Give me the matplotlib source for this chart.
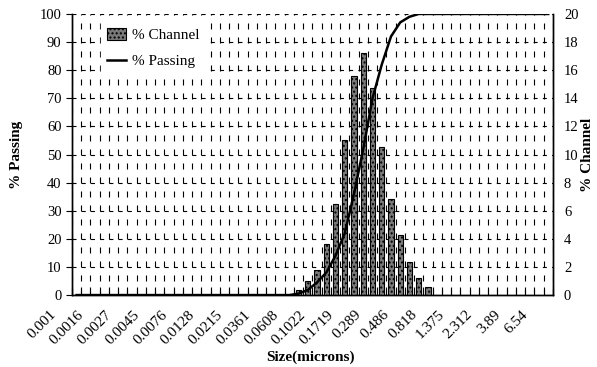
import numpy as np
import matplotlib
matplotlib.use("Agg")
import matplotlib.pyplot as plt
import matplotlib.transforms as mtransforms

plt.rcParams['font.family'] = ['Liberation Serif', 'DejaVu Serif']

# size tick labels (one every 3 channels)
size_labels = ['0.001', '0.0016', '0.0027', '0.0045', '0.0076', '0.0128',
               '0.0215', '0.0361', '0.0608', '0.1022', '0.1719', '0.289',
               '0.486', '0.818', '1.375', '2.312', '3.89', '6.54']

# % in each channel (52 channels)
channel_pct = [0] * 24 + [0.35, 1.0, 1.8, 3.6, 6.5, 11.0, 15.6, 17.2,
                          14.7, 10.5, 6.8, 4.3, 2.35, 1.2, 0.57] + [0] * 13

# cumulative % passing
passing_pct = [0] * 24 + [0.5, 1.8, 4.5, 8, 14, 22, 36, 52,
                          70, 82, 92, 97, 99, 100] + [100] * 14

x = np.arange(len(channel_pct))

fig = plt.figure(figsize=(5.97, 3.67), dpi=100)
ax = fig.add_axes([0.1206, 0.196, 0.8054, 0.766])
ax2 = ax.twinx()

# left axis: % Passing
ax.set_xlim(-0.5, len(x) - 0.5)
ax.set_ylim(0, 100)
ax.set_yticks(np.arange(0, 101, 10))

# dashed grid
for b in np.arange(-0.5, len(x), 1):
    ax.axvline(b, color='black', lw=0.8, ls=(0, (5.4, 7.2)), zorder=0)
for yv in np.arange(10, 101, 10):
    ax.axhline(yv, color='black', lw=0.8, ls=(0, (3.6, 4.7)), zorder=0)

# size labels, shifted left like the original
ax.set_xticks([])
ax.set_xticks(np.arange(-0.5, len(x), 1), minor=True)
trans = mtransforms.blended_transform_factory(ax.transData, ax.transAxes)
shift = mtransforms.ScaledTranslation(-0.27, -0.13, fig.dpi_scale_trans)
for xi, lab in zip(x[::3], size_labels):
    ax.text(xi, 0, lab, transform=trans + shift, rotation=45, ha='right',
            va='top', rotation_mode='anchor', fontsize=11, clip_on=False)

ax.tick_params(axis='x', which='minor', direction='in', length=6, width=0.8)
ax.tick_params(axis='y', labelsize=10.5, length=4, width=0.8)
fig.text(0.52, 1 - 357 / 367, 'Size(microns)', fontsize=11, fontweight='bold',
         ha='center', va='center')
ax.set_ylabel('% Passing', fontsize=11, fontweight='bold', labelpad=12)

# right axis: % Channel
ax2.set_ylim(0, 20)
ax2.set_yticks(np.arange(0, 21, 2))
ax2.tick_params(axis='y', labelsize=10.5, length=0, pad=8)
ax2.set_ylabel('% Channel', fontsize=11, fontweight='bold', labelpad=2)

bars = ax2.bar(x, channel_pct, width=0.55, color='#7a7a7a', edgecolor='black',
               hatch='....', lw=0.8, zorder=2)
line, = ax2.plot(x, np.array(passing_pct) / 5, color='black', lw=1.8, zorder=3)

for a in (ax, ax2):
    a.spines['top'].set_visible(False)
    for s in ('left', 'right', 'bottom'):
        a.spines[s].set_linewidth(1.0)

leg = ax2.legend([bars, line], ['% Channel', '% Passing'], loc='upper left',
                 bbox_to_anchor=(0.045, 1.0), frameon=True, fancybox=False,
                 edgecolor='white', framealpha=1, fontsize=11,
                 handlelength=1.2, handleheight=0.9, handletextpad=0.4,
                 labelspacing=0.75, borderpad=0.4)

fig.savefig('out.png', dpi=100)
